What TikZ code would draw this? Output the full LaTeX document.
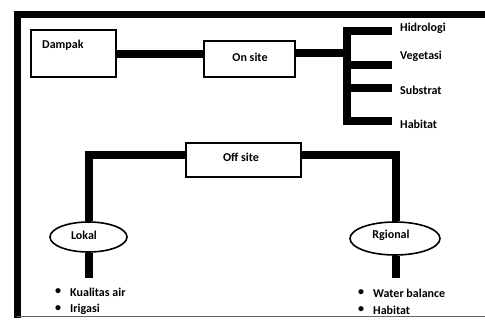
\documentclass[tikz,border=0pt]{standalone}
\usepackage{fontspec}
\setmainfont{Carlito}
\usetikzlibrary{shapes.geometric}
\begin{document}
\begin{tikzpicture}[x=1pt,y=-1pt,
  txt/.style={font=\fontsize{12}{14}\selectfont\bfseries, inner sep=0pt},
  boxnode/.style={draw, line width=2.8pt, rectangle, inner sep=0pt},
  ellnode/.style={draw, line width=1.6pt, ellipse, inner sep=0pt},
  conn/.style={line width=7.5pt},
  frame/.style={line width=7pt}]
\useasboundingbox (0,0) rectangle (485,320);
% frame
\draw[frame] (17,11) -- (17,318);
\draw[frame] (13.5,14.5) -- (485,14.5);
\draw[line width=1pt, black!60] (17,317) -- (485,317);
% boxes
\node[boxnode, minimum width=85pt, minimum height=47pt] (dampak) at (73.5,53.5) {};
\node[txt, anchor=west] (dampaktxt) at (42,45) {Dampak};
\node[boxnode, minimum width=91pt, minimum height=36pt] (onsite) at (249.5,59) {};
\node[txt] (onsitetxt) at (250,57) {On site};
\node[boxnode, minimum width=115pt, minimum height=34pt] (offsite) at (243.5,160) {};
\node[txt] (offsitetxt) at (241,157) {Off site};
\node[ellnode, minimum width=77pt, minimum height=30pt] (lokal) at (88.5,237) {};
\node[txt] (lokaltxt) at (84,235) {Lokal};
\node[ellnode, minimum width=90pt, minimum height=33pt] (regional) at (395,238.5) {};
\node[txt] (regionaltxt) at (391,235) {Rgional};
% right labels
\node[txt, anchor=west] (hid) at (400,28) {Hidrologi};
\node[txt, anchor=west] (veg) at (400,56) {Vegetasi};
\node[txt, anchor=west] (sub) at (400,90) {Substrat};
\node[txt, anchor=west] (hab) at (400,124) {Habitat};
% branch coordinates
\coordinate (bt) at (347,31);
\coordinate (bb) at (347,121);
\coordinate (b1) at (392,31);
\coordinate (b2) at (392,65);
\coordinate (b3) at (392,88);
\coordinate (b4) at (392,121);
% connectors
\draw[conn] (dampak.east |- 0,54) -- (onsite.west |- 0,54);
\draw[conn] (onsite.east |- 0,53) -- (347,53);
\draw[conn, line cap=butt] (b1) -- (bt) -- (bb) -- (b4);
\draw[conn] (347,65) -- (b2);
\draw[conn] (347,88) -- (b3);
\draw[conn] (offsite.west |- 0,155) -| (lokal.north -| 89,0);
\draw[conn] (offsite.east |- 0,155) -| (regional.north -| 396,0);
\coordinate (lend) at (89,278);
\coordinate (rend) at (396,278);
\draw[conn] (lokal.south -| 89,0) -- (lend);
\draw[conn] (regional.south -| 396,0) -- (rend);
% bullet lists
\node[txt, anchor=west] (lb1) at (55,292) {\textbullet};
\node[txt, anchor=west] (lt1) at (70,292) {Kualitas air};
\node[txt, anchor=west] (lb2) at (55,309) {\textbullet};
\node[txt, anchor=west] (lt2) at (70,309) {Irigasi};
\node[txt, anchor=west] (rb1) at (358,293) {\textbullet};
\node[txt, anchor=west] (rt1) at (373,293) {Water balance};
\node[txt, anchor=west] (rb2) at (358,310) {\textbullet};
\node[txt, anchor=west] (rt2) at (373,310) {Habitat};
\end{tikzpicture}
\end{document}
